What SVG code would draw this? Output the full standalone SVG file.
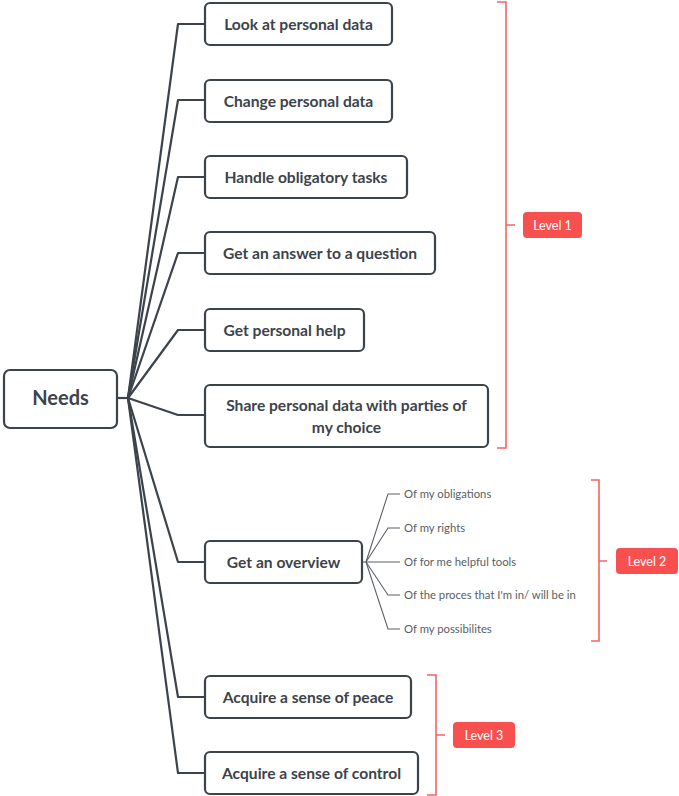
<svg xmlns="http://www.w3.org/2000/svg" width="679" height="796" viewBox="0 0 679 796">
<style>
.box{fill:#fff;stroke:#3d434b;stroke-width:2.2}
.t{font-family:Lato,"Liberation Sans",sans-serif;font-weight:700;font-size:15.6px;fill:#3d434b;text-anchor:middle}
.root{font-size:20px}
.conn{fill:none;stroke:#3d434b;stroke-width:2.2;stroke-linejoin:round}
.sub{fill:none;stroke:#5c6068;stroke-width:1.1}
.st{font-family:Lato,"Liberation Sans",sans-serif;font-size:11.3px;fill:#5a5e66}
.br{fill:none;stroke:#f46464;stroke-width:1.6}
.lb{fill:#f84f4f}
.lt{font-family:Lato,"Liberation Sans",sans-serif;font-size:12.5px;fill:#fff;text-anchor:middle}
</style>
<g id="connectors">
<path class="conn" d="M117 398H128"/>
<path class="conn" d="M128 398L178 24H205"/>
<path class="conn" d="M128 398L178 100H205"/>
<path class="conn" d="M128 398L178 177H205"/>
<path class="conn" d="M128 398L178 253H205"/>
<path class="conn" d="M128 398L178 330H205"/>
<path class="conn" d="M128 398L178 415H205"/>
<path class="conn" d="M128 398L178 562H205"/>
<path class="conn" d="M128 398L178 697H205"/>
<path class="conn" d="M128 398L178 773H205"/>
<path class="sub" d="M362 562H366"/>
<path class="sub" d="M366 562L388 494H400"/>
<path class="sub" d="M366 562L388 528H400"/>
<path class="sub" d="M366 562H400"/>
<path class="sub" d="M366 562L388 595H400"/>
<path class="sub" d="M366 562L388 629H400"/>
</g>
<g id="needs"><rect class="box" x="4" y="370" width="113" height="58" rx="6"/><text class="t root" x="60.5" y="405">Needs</text></g>
<g id="n1"><rect class="box" x="205" y="3" width="187" height="42" rx="5"/><text class="t" x="298.5" y="29.5">Look at personal data</text></g>
<g id="n2"><rect class="box" x="205" y="80" width="187" height="42" rx="5"/><text class="t" x="298.5" y="106.5">Change personal data</text></g>
<g id="n3"><rect class="box" x="205" y="156" width="202" height="42" rx="5"/><text class="t" x="306" y="182.5">Handle obligatory tasks</text></g>
<g id="n4"><rect class="box" x="205" y="232" width="230" height="42" rx="5"/><text class="t" x="320" y="258.5">Get an answer to a question</text></g>
<g id="n5"><rect class="box" x="205" y="309" width="159" height="42" rx="5"/><text class="t" x="284.5" y="335.5">Get personal help</text></g>
<g id="n6"><rect class="box" x="205" y="385" width="283" height="62" rx="5"/><text class="t" x="346.5" y="410.5">Share personal data with parties of</text><text class="t" x="346.5" y="432.5">my choice</text></g>
<g id="n7"><rect class="box" x="205" y="541" width="157" height="42" rx="5"/><text class="t" x="283.5" y="567.5">Get an overview</text></g>
<g id="n8"><rect class="box" x="205" y="676" width="206" height="42" rx="5"/><text class="t" x="308" y="702.5">Acquire a sense of peace</text></g>
<g id="n9"><rect class="box" x="205" y="752" width="213" height="42" rx="5"/><text class="t" x="311.5" y="778.5">Acquire a sense of control</text></g>
<g id="s1"><text class="st" x="404" y="498">Of my obligations</text></g>
<g id="s2"><text class="st" x="404" y="532">Of my rights</text></g>
<g id="s3"><text class="st" x="404" y="566">Of for me helpful tools</text></g>
<g id="s4"><text class="st" x="404" y="599">Of the proces that I'm in/ will be in</text></g>
<g id="s5"><text class="st" x="404" y="633">Of my possibilites</text></g>
<g id="level1"><path class="br" d="M497 2H506V448H497M506 225H515"/><rect class="lb" x="523" y="212" width="59" height="26" rx="4"/><text class="lt" x="552.5" y="229.5">Level 1</text></g>
<g id="level2"><path class="br" d="M591 480H599V641H591M599 561H607"/><rect class="lb" x="616" y="548" width="62" height="26" rx="4"/><text class="lt" x="647" y="565.5">Level 2</text></g>
<g id="level3"><path class="br" d="M427 675H436V795H427M436 735H445"/><rect class="lb" x="453" y="722" width="62" height="26" rx="4"/><text class="lt" x="484" y="739.5">Level 3</text></g>
</svg>
